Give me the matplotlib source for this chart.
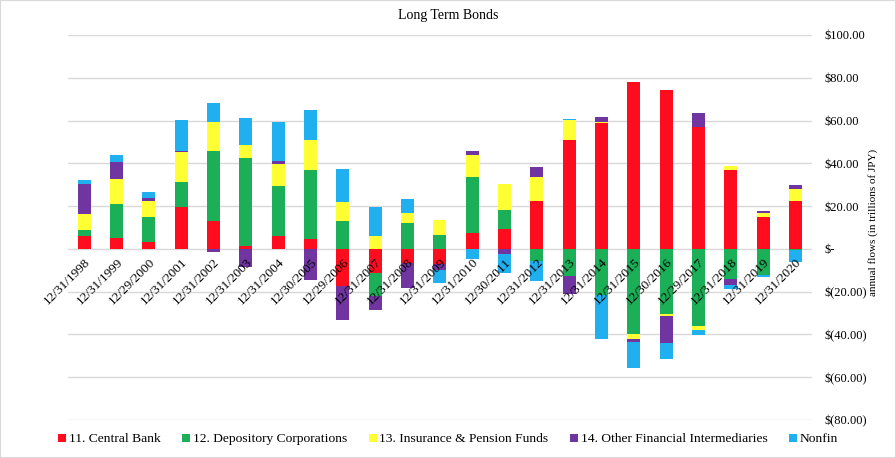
import numpy as np
import matplotlib
matplotlib.use("Agg")
import matplotlib.pyplot as plt
import matplotlib.transforms as mtransforms
from matplotlib.lines import Line2D
from matplotlib.patches import Rectangle

plt.rcParams['font.family'] = ['Liberation Serif', 'DejaVu Serif']

# data (trillions of JPY)
dates = ['12/31/1998', '12/31/1999', '12/29/2000', '12/31/2001', '12/31/2002',
         '12/31/2003', '12/31/2004', '12/30/2005', '12/29/2006', '12/31/2007',
         '12/31/2008', '12/31/2009', '12/31/2010', '12/30/2011', '12/31/2012',
         '12/31/2013', '12/31/2014', '12/31/2015', '12/30/2016', '12/29/2017',
         '12/31/2018', '12/31/2019', '12/31/2020']

central_bank = [5.8, 5.3, 3.4, 19.8, 12.8, 1.5, 6.2, 4.8, -17.2, -11.1, -6.8, -7.2,
                7.6, 9.5, 22.6, 50.8, 58.7, 78.0, 74.2, 56.9, 36.7, 14.7, 22.2]
depository = [3.2, 15.5, 11.7, 11.3, 32.8, 40.8, 23.0, 31.9, 12.8, -10.8, 12.3, 6.7,
              25.8, 8.9, -5.6, -12.5, -21.4, -39.6, -30.6, -36.1, -14.1, -12.2, -0.5]
insurance = [7.5, 11.7, 7.5, 14.1, 13.6, 6.1, 10.3, 14.1, 8.9, 5.8, 4.7, 6.6,
             10.3, 11.7, 10.8, 9.3, 0.5, -2.4, -0.9, -1.9, 1.9, 2.3, 5.6]
other_fi = [13.6, 7.9, 1.4, 0.5, -1.5, -8.4, 1.4, -14.5, -16.0, -6.6, -11.7, -2.9,
            1.9, -2.3, 4.7, -8.4, 2.4, -1.4, -12.3, 6.6, -2.8, 0.5, 1.9]
nonfin = [1.9, 3.3, 2.4, 14.5, 8.9, 12.7, 18.3, 14.0, 15.5, 14.0, 6.1, -5.7,
          -4.6, -8.9, -9.3, 0.5, -20.7, -12.2, -7.5, -2.3, -1.9, -0.9, -5.6]

series_names = ['11. Central Bank', '12. Depository Corporations',
                '13. Insurance & Pension Funds', '14. Other Financial Intermediaries',
                'Nonfin']
series_vals = [central_bank, depository, insurance, other_fi, nonfin]
colors = ['#FF0D1F', '#1BB057', '#FFFF33', '#7035A0', '#20B0F0']

fig = plt.figure(figsize=(8.96, 4.58), dpi=100)
ax = fig.add_axes([0.0759, 0.083, 0.830, 0.8406])
ax.set_axisbelow(False)  # tick labels over the bars, like Excel

x = np.arange(len(dates))
pos_bottom = np.zeros(len(dates))
neg_bottom = np.zeros(len(dates))
for name, vals, c in zip(series_names, series_vals, colors):
    v = np.array(vals, dtype=float)
    bottom = np.where(v >= 0, pos_bottom, neg_bottom)
    ax.bar(x, v, width=0.4, bottom=bottom, color=c, linewidth=0, zorder=1)
    pos_bottom += np.clip(v, 0, None)
    neg_bottom += np.clip(v, None, 0)

ax.set_xlim(-0.5, len(dates) - 0.5)
ax.set_ylim(-80, 100)
ticks = np.arange(-80, 101, 20)
ax.set_yticks(ticks)
# gridlines drawn by hand so they stay behind the bars
for t in ticks:
    ax.axhline(t, color='#d9d9d9', linewidth=1, zorder=0.5)


def money(v, pos):
    if abs(v) < 1e-9:
        return '$-'
    if v < 0:
        return '$(%.2f)' % abs(v)
    return '$%.2f' % v


ax.yaxis.set_major_formatter(plt.FuncFormatter(money))
ax.yaxis.tick_right()
ax.tick_params(axis='y', length=0, pad=9, labelsize=9)

for s in ['top', 'left', 'right', 'bottom']:
    ax.spines[s].set_visible(False)
ax.spines['bottom'].set_position(('data', 0))

ax.set_xticks(x)
ax.set_xticklabels(dates, rotation=45, ha='right', rotation_mode='anchor')
ax.tick_params(axis='x', length=0, pad=5, labelsize=9.5)
shift = mtransforms.ScaledTranslation(0, 0, fig.dpi_scale_trans)
for lbl in ax.get_xticklabels():
    lbl.set_transform(lbl.get_transform() + shift)

fig.text(0.5, 1 - 15 / 458, 'Long Term Bonds', ha='center', va='center', fontsize=10)
fig.text(873 / 896, 1 - 222 / 458, 'annual flows (in trillions of JPY)', rotation=90,
         ha='center', va='center', fontsize=8)

handles = [Line2D([], [], marker='s', linestyle='none', markersize=6,
                  markerfacecolor=c, markeredgewidth=0) for c in colors]
fig.legend(handles, series_names, loc='center', bbox_to_anchor=(0.5, 1 - 439 / 458),
           ncol=5, frameon=False, fontsize=9.7, handlelength=0.6, handletextpad=0.2,
           columnspacing=1.6)

fig.add_artist(Rectangle((0, 0), 1, 1, transform=fig.transFigure, fill=False,
                         edgecolor='#d9d9d9', linewidth=1.5))

fig.savefig('out.png', dpi=100)
